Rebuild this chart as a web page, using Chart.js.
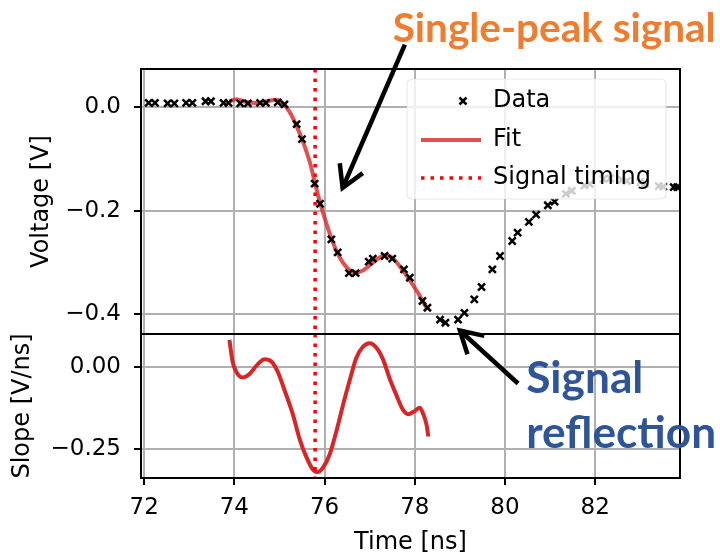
<!DOCTYPE html>
<html><head><meta charset="utf-8">
<script src="https://cdn.jsdelivr.net/npm/chart.js@4/dist/chart.umd.min.js"></script>
<style>html,body{margin:0;padding:0;background:#fff;overflow:hidden}</style>
</head><body>
<canvas id="c" width="720" height="557"></canvas>
<script>
// ---------------- data ----------------
const dataTime = [72.10,72.24,72.52,72.67,72.93,73.07,73.36,73.48,73.76,73.87,74.13,74.30,74.57,74.70,74.96,75.11,
  75.38,75.50,75.78,75.90,76.15,76.29,76.54,76.69,76.98,77.07,77.33,77.50,77.76,77.89,78.17,78.28,78.56,78.68,
  78.96,79.10,79.32,79.48,79.72,79.89,80.16,80.28,80.53,80.69,80.95,81.10,81.35,81.48,81.76,81.88,82.18,82.33,
  82.59,82.70,83.00,83.11,83.41,83.51,83.74,83.82];
const dataVoltage = [0.009,0.009,0.008,0.008,0.009,0.009,0.012,0.012,0.009,0.009,0.008,0.008,0.009,0.009,0.010,0.006,
  -0.032,-0.061,-0.147,-0.186,-0.255,-0.280,-0.320,-0.320,-0.298,-0.292,-0.287,-0.292,-0.313,-0.329,-0.374,-0.387,-0.410,-0.416,
  -0.410,-0.397,-0.371,-0.347,-0.313,-0.287,-0.258,-0.242,-0.221,-0.207,-0.189,-0.182,-0.167,-0.161,-0.151,-0.148,-0.138,-0.137,
  -0.140,-0.142,-0.144,-0.147,-0.152,-0.153,-0.154,-0.154];
const fitTime = [73.89,74.04,74.26,74.48,74.70,74.93,75.07,75.22,75.37,75.52,75.67,75.78,75.89,76.04,76.18,76.33,76.48,
  76.67,76.85,77.04,77.22,77.36,77.52,77.70,77.89,78.07,78.26,78.30];
const fitVoltage = [0.0116,0.016,0.0105,0.0085,0.0116,0.015,0.0085,-0.008,-0.034,-0.066,-0.105,-0.143,-0.181,-0.224,-0.260,
  -0.289,-0.308,-0.319,-0.315,-0.302,-0.290,-0.285,-0.292,-0.311,-0.334,-0.358,-0.386,-0.389];
const slopeTime = [73.89,73.96,74.04,74.18,74.33,74.52,74.67,74.82,74.96,75.11,75.30,75.44,75.59,75.74,75.85,75.96,76.11,
  76.26,76.41,76.56,76.70,76.85,77.00,77.15,77.30,77.44,77.59,77.74,77.85,78.00,78.11,78.18,78.26,78.30];
const slopeValue = [0.084,0.018,-0.013,-0.031,-0.021,0.010,0.025,0.018,-0.013,-0.069,-0.145,-0.216,-0.272,-0.312,-0.320,
  -0.307,-0.267,-0.196,-0.114,-0.038,0.028,0.063,0.074,0.060,0.023,-0.033,-0.084,-0.130,-0.143,-0.133,-0.123,-0.140,-0.175,-0.211];
const signalTiming = 75.79;
const timeRange = [71.93, 83.88];
const voltageRange = [-0.4378, 0.0744];
const slopeRange = [-0.338, 0.102];
const xTicks = [72,74,76,78,80,82];
const voltageTicks = [0, -0.2, -0.4];
const slopeTicks = [0, -0.25];
const legendLabels = ['Data','Fit','Signal timing'];
const titleTop = 'Single-peak signal';
const titleBottom = ['Signal','reflection'];

// ---------------- styling ----------------
const FONT = 'DejaVu Sans';
const RED = 'rgb(214,39,40)';
const RED_A = 'rgba(214,39,40,0.8)';
const fmt = (v, d) => (v < 0 ? '\u2212' : '') + Math.abs(v).toFixed(d);
const pts = (xs, ys) => xs.map((x, i) => ({x, y: ys[i]}));

function axisCommon(ticks, dec, pad) {
  return {
    afterBuildTicks: s => { s.ticks = ticks.map(v => ({value: v})); },
    ticks: {callback: v => dec === null ? String(v) : fmt(v, dec), font: {family: FONT, size: 23}, color: '#000',
            autoSkip: false, maxRotation: 0, padding: pad},
    grid: {color: '#b0b0b0', lineWidth: 2, tickColor: '#000', tickLength: 7, tickWidth: 2},
    border: {display: false}
  };
}

const framePlugin = {
  id: 'frame',
  afterDatasetsDraw(chart) {
    const {ctx, chartArea: a, scales} = chart;
    ctx.save();
    ctx.strokeStyle = '#000'; ctx.lineWidth = 2;
    for (const s of [scales.y, scales.ys]) ctx.strokeRect(a.left, s.top, a.right - a.left, s.bottom - s.top);
    ctx.restore();
  },
  afterDraw(chart) {
    const {ctx, chartArea: a, scales} = chart;
    const X = scales.x, Y = scales.y;
    ctx.save();
    // legend
    const L = {left: a.right - 273, top: a.top + 10, w: 259, h: 120};
    ctx.fillStyle = 'rgba(255,255,255,0.8)';
    ctx.strokeStyle = 'rgba(220,220,220,0.6)'; ctx.lineWidth = 1.2;
    ctx.beginPath(); ctx.roundRect(L.left, L.top, L.w, L.h, 5); ctx.fill(); ctx.stroke();
    const rows = [L.top + 22, L.top + 61, L.top + 99];
    const hx0 = L.left + 14, hx1 = L.left + 74;
    // Data marker
    ctx.strokeStyle = '#000'; ctx.lineWidth = 2.5;
    const mx = L.left + 56, r = 3.5;
    ctx.beginPath(); ctx.moveTo(mx - r, rows[0] - r); ctx.lineTo(mx + r, rows[0] + r);
    ctx.moveTo(mx + r, rows[0] - r); ctx.lineTo(mx - r, rows[0] + r); ctx.stroke();
    // Fit line
    ctx.strokeStyle = RED_A; ctx.lineWidth = 4;
    ctx.beginPath(); ctx.moveTo(hx0, rows[1]); ctx.lineTo(hx1, rows[1]); ctx.stroke();
    // timing dotted
    ctx.strokeStyle = '#ff0000'; ctx.lineWidth = 3.5; ctx.setLineDash([3.5, 6]);
    ctx.beginPath(); ctx.moveTo(hx0, rows[2]); ctx.lineTo(hx1, rows[2]); ctx.stroke();
    ctx.setLineDash([]);
    ctx.fillStyle = '#000'; ctx.font = `24px ${FONT}`; ctx.textBaseline = 'middle'; ctx.textAlign = 'left';
    legendLabels.forEach((t, i) => ctx.fillText(t, L.left + 86, rows[i]));

    // annotations
    const fitFont = (text, targetW) => {
      ctx.font = `bold 40px Lato`;
      return 40 * targetW / ctx.measureText(text).width;
    };
    ctx.textBaseline = 'alphabetic';
    let fs = fitFont(titleTop, 323);
    ctx.font = `bold ${fs}px Lato`; ctx.fillStyle = '#ED7D31';
    ctx.fillText(titleTop, X.getPixelForValue(77.51), Y.getPixelForValue(0.1273));
    fs = fitFont(titleBottom[1], 190);
    ctx.font = `bold ${fs}px Lato`; ctx.fillStyle = '#2F5597';
    ctx.fillText(titleBottom[0], X.getPixelForValue(80.47), Y.getPixelForValue(-0.5510));
    ctx.fillText(titleBottom[1], X.getPixelForValue(80.47), Y.getPixelForValue(-0.6576));

    const arrow = (t0, v0, t1, v1) => {
      const x0 = X.getPixelForValue(t0), y0 = Y.getPixelForValue(v0);
      const x1 = X.getPixelForValue(t1), y1 = Y.getPixelForValue(v1);
      ctx.strokeStyle = '#000'; ctx.lineWidth = 4.5; ctx.lineCap = 'butt'; ctx.lineJoin = 'miter';
      ctx.beginPath(); ctx.moveTo(x0, y0); ctx.lineTo(x1, y1); ctx.stroke();
      const ang = Math.atan2(y0 - y1, x0 - x1), Lh = 25, sp = Math.PI / 6;
      ctx.beginPath();
      ctx.moveTo(x1 + Lh * Math.cos(ang + sp), y1 + Lh * Math.sin(ang + sp));
      ctx.lineTo(x1, y1);
      ctx.lineTo(x1 + Lh * Math.cos(ang - sp), y1 + Lh * Math.sin(ang - sp));
      ctx.stroke();
    };
    arrow(77.78, 0.1215, 76.40, -0.1556);
    arrow(80.29, -0.5335, 79.0, -0.431);
    ctx.restore();
  }
};

new Chart(document.getElementById('c'), {
  type: 'scatter',
  data: {
    datasets: [
      {label: legendLabels[0], data: pts(dataTime, dataVoltage), yAxisID: 'y', showLine: false,
       pointStyle: 'crossRot', pointRadius: 5, pointBorderWidth: 2.5, borderColor: '#000', backgroundColor: '#000'},
      {label: legendLabels[2], data: [{x: signalTiming, y: voltageRange[1]}, {x: signalTiming, y: voltageRange[0]}], yAxisID: 'y',
       showLine: true, pointRadius: 0, borderColor: '#ff0000', borderWidth: 3.5, borderDash: [3.5, 6]},
      {label: 'timing2', data: [{x: signalTiming, y: slopeRange[1]}, {x: signalTiming, y: slopeRange[0]}], yAxisID: 'ys',
       showLine: true, pointRadius: 0, borderColor: '#ff0000', borderWidth: 3.5, borderDash: [3.5, 6]},
      {label: legendLabels[1], data: pts(fitTime, fitVoltage), yAxisID: 'y', showLine: true, pointRadius: 0,
       borderColor: RED_A, borderWidth: 4, cubicInterpolationMode: 'monotone'},
      {label: 'Slope', data: pts(slopeTime, slopeValue), yAxisID: 'ys', showLine: true, pointRadius: 0,
       borderColor: RED, borderWidth: 4, cubicInterpolationMode: 'monotone'}
    ]
  },
  options: {
    responsive: false, animation: false, devicePixelRatio: 1,
    layout: {padding: {top: 69, right: 40, left: 0, bottom: 0}},
    plugins: {legend: {display: false}, tooltip: {enabled: false}},
    scales: {
      x: Object.assign(axisCommon(xTicks, null, 9), {
        type: 'linear', min: timeRange[0], max: timeRange[1],
        afterFit: s => { s.height = 79; },
        title: {display: true, text: 'Time [ns]', color: '#000', font: {family: FONT, size: 24}, padding: {top: 0, bottom: 0}}
      }),
      ys: Object.assign(axisCommon(slopeTicks, 2, 13), {
        type: 'linear', position: 'left', stack: 'panels', stackWeight: 144, min: slopeRange[0], max: slopeRange[1],
        afterFit: s => { s.width = 141; },
        title: {display: true, text: 'Slope [V/ns]', color: '#000', font: {family: FONT, size: 24}, padding: {top: 8, bottom: 0}}
      }),
      y: Object.assign(axisCommon(voltageTicks, 1, 13), {
        type: 'linear', position: 'left', stack: 'panels', stackWeight: 265, min: voltageRange[0], max: voltageRange[1],
        afterFit: s => { s.width = 141; },
        title: {display: true, text: 'Voltage [V]', color: '#000', font: {family: FONT, size: 24}, padding: {top: 27, bottom: 0}}
      })
    }
  },
  plugins: [framePlugin]
});
</script>
</body></html>
